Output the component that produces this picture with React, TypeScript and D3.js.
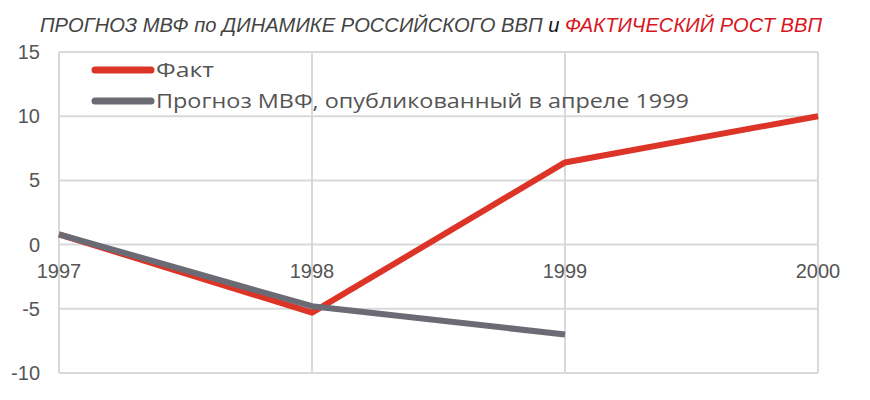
import React from "react";
import * as d3 from "d3";

const years = [1997, 1998, 1999, 2000];
const factValues = [0.8, -5.3, 6.4, 10.0];
const forecastYears = [1997, 1998, 1999];
const forecastValues = [0.8, -4.8, -7.0];
const yTicks = [15, 10, 5, 0, -5, -10];
const legendLabels = ["Факт", "Прогноз МВФ, опубликованный в апреле 1999"];
const legendWidths = [58, 533];

const W = 870;
const H = 400;
const RED = "#dc3528";
const GRAY = "#6a6b75";
const GRID = "#d9d9d9";

export default function App() {
  const x = d3.scaleLinear().domain([1997, 2000]).range([59, 818]);
  const y = d3.scaleLinear().domain([-10, 15]).range([373, 52]);
  const line = d3
    .line<[number, number]>()
    .x((d) => x(d[0]))
    .y((d) => y(d[1]));
  const factData: [number, number][] = years.map((yr, i) => [yr, factValues[i]]);
  const fcData: [number, number][] = forecastYears.map((yr, i) => [yr, forecastValues[i]]);

  return (
    <svg
      width={W}
      height={H}
      style={{ position: "absolute", left: 0, top: 0, background: "#fff" }}
    >
      <rect width={W} height={H} fill="#fff" />
      <text
        x={40}
        y={32}
        textLength={782}
        lengthAdjust="spacingAndGlyphs"
        fontFamily="'Liberation Sans', Arial, sans-serif"
        fontStyle="italic"
        fontSize={20}
        fill="#444"
      >
        ПРОГНОЗ МВФ по ДИНАМИКЕ РОССИЙСКОГО ВВП <tspan fill="#111">и</tspan>{" "}
        <tspan fill="#d8161e">ФАКТИЧЕСКИЙ РОСТ ВВП</tspan>
      </text>
      {yTicks.map((t) => (
        <g key={t}>
          <line x1={x(1997)} x2={x(2000)} y1={y(t)} y2={y(t)} stroke={GRID} strokeWidth={2} />
          <text
            x={40}
            y={y(t) + 7}
            textAnchor="end"
            fontFamily="'Liberation Sans', Arial, sans-serif"
            fontSize={20}
            fill="#555"
          >
            {t}
          </text>
        </g>
      ))}
      {years.map((yr) => (
        <g key={yr}>
          <line x1={x(yr)} x2={x(yr)} y1={y(15)} y2={y(-10)} stroke={GRID} strokeWidth={2} />
          <text
            x={x(yr)}
            y={y(0) + 33}
            textAnchor="middle"
            fontFamily="'Liberation Sans', Arial, sans-serif"
            fontSize={20}
            fill="#555"
          >
            {yr}
          </text>
        </g>
      ))}
      <path d={line(factData) || ""} fill="none" stroke={RED} strokeWidth={6} strokeLinejoin="round" />
      <path d={line(fcData) || ""} fill="none" stroke={GRAY} strokeWidth={6} strokeLinejoin="round" />
      {legendLabels.map((lab, i) => (
        <g key={lab}>
          <line
            x1={95}
            x2={151}
            y1={70 + i * 31}
            y2={70 + i * 31}
            stroke={i === 0 ? RED : GRAY}
            strokeWidth={7}
            strokeLinecap="round"
          />
          <text
            x={156}
            y={70 + i * 31 + 7}
            textLength={legendWidths[i]}
            lengthAdjust="spacingAndGlyphs"
            fontFamily="'Open Sans', 'Noto Sans', sans-serif"
            fontSize={20}
            fill="#555"
          >
            {lab}
          </text>
        </g>
      ))}
    </svg>
  );
}
